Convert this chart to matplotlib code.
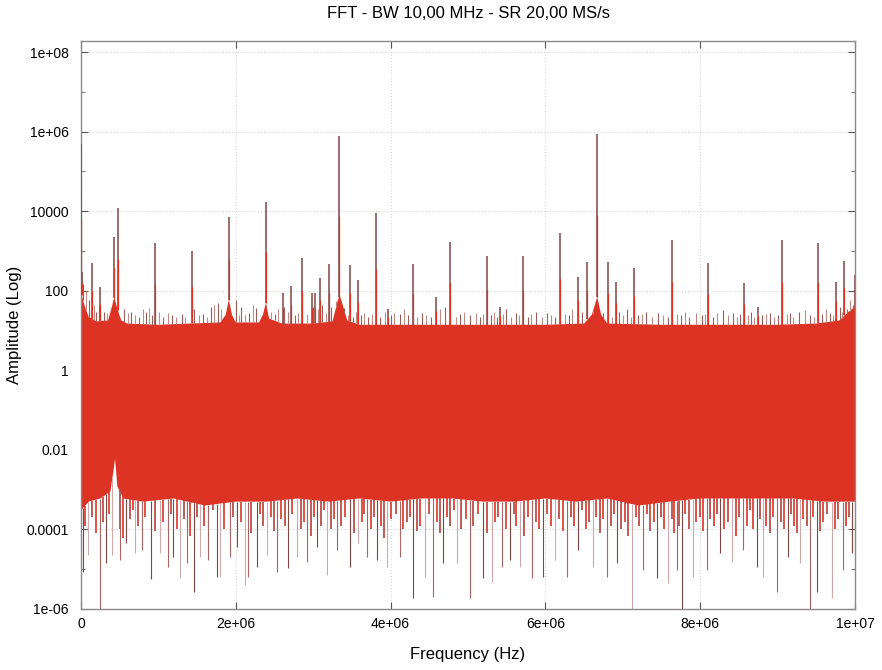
import matplotlib
matplotlib.use("Agg")
import matplotlib.pyplot as plt
from matplotlib.ticker import FixedLocator, FuncFormatter, NullFormatter
import numpy as np

plt.rcParams['font.family'] = ['Liberation Sans', 'DejaVu Sans']

# ---------------- data ----------------
title = "FFT - BW 10,00 MHz - SR 20,00 MS/s"
x_label = "Frequency (Hz)"
y_label = "Amplitude (Log)"

# main spectral lines: frequency (Hz), amplitude
peak_freq = [0.0, 1.0e4, 1.42e5, 2.45e5, 4.26e5, 4.78e5, 9.56e5, 1.43e6, 1.91e6,
             2.39e6, 2.61e6, 2.71e6, 2.86e6, 2.98e6, 3.02e6, 3.09e6, 3.20e6,
             3.33e6, 3.48e6, 3.58e6, 3.81e6, 3.97e6, 4.29e6, 4.59e6, 4.77e6,
             5.25e6, 5.41e6, 5.71e6, 6.19e6, 6.42e6, 6.54e6, 6.67e6, 6.81e6,
             6.91e6, 7.14e6, 7.64e6, 8.10e6, 8.57e6, 8.75e6, 9.06e6, 9.52e6,
             9.75e6, 9.86e6, 1.0e7]
peak_amp = [5e5, 300, 500, 125, 2200, 12000, 1600, 1000, 7000,
            17000, 90, 130, 660, 90, 90, 210, 470,
            8e5, 450, 190, 9000, 35, 470, 70, 1700,
            750, 40, 750, 2800, 220, 520, 9e5, 520,
            170, 370, 1900, 500, 160, 40, 1900, 1600,
            170, 560, 250]

# small "grass" lines on top of the noise floor (MHz, amplitude)
grass_mhz = [0.03, 0.07, 0.10, 0.17, 0.20, 0.23, 0.30, 0.33, 0.55, 0.61, 0.65, 0.70,
             0.75, 0.80, 0.84, 0.88, 0.92, 1.01, 1.06, 1.13, 1.18, 1.23, 1.30, 1.35,
             1.46, 1.52, 1.58, 1.63, 1.68, 1.72, 1.77, 1.81, 2.00, 2.04, 2.07, 2.12,
             2.17, 2.22, 2.26, 2.46, 2.50, 2.55, 2.62, 2.68, 2.76, 2.80, 2.85, 2.92,
             3.00, 3.06, 3.12, 3.16, 3.23, 3.29, 3.40, 3.45, 3.52, 3.55, 3.62, 3.66,
             3.71, 3.76, 3.86, 3.93, 4.01, 4.05, 4.12, 4.17, 4.22, 4.34, 4.40, 4.46,
             4.52, 4.64, 4.70, 4.84, 4.90, 4.95, 5.02, 5.10, 5.16, 5.20, 5.30, 5.33,
             5.37, 5.45, 5.49, 5.56, 5.62, 5.66, 5.77, 5.82, 5.88, 5.95, 6.02, 6.07,
             6.13, 6.25, 6.30, 6.35, 6.47, 6.61, 6.75, 6.86, 6.95, 7.00, 7.05, 7.10,
             7.20, 7.25, 7.30, 7.38, 7.46, 7.52, 7.58, 7.70, 7.75, 7.80, 7.86, 7.95,
             8.02, 8.06, 8.16, 8.22, 8.30, 8.36, 8.43, 8.48, 8.52, 8.62, 8.65, 8.70,
             8.80, 8.85, 8.90, 8.95, 9.00, 9.12, 9.16, 9.20, 9.28, 9.35, 9.42, 9.47,
             9.58, 9.62, 9.68, 9.72, 9.80, 9.83, 9.90, 9.93, 9.97]
grass_amp = [150, 100, 60, 45, 30, 40, 30, 28, 35, 28, 30, 25,
             22, 35, 30, 38, 24, 30, 22, 28, 24, 22, 26, 22,
             35, 24, 26, 22, 40, 45, 50, 35, 60, 25, 40, 24,
             28, 45, 38, 30, 26, 35, 40, 30, 24, 28, 30, 26,
             40, 35, 45, 28, 40, 55, 28, 24, 22, 30, 24, 28,
             22, 26, 22, 30, 24, 28, 26, 35, 24, 22, 28, 24,
             22, 35, 40, 22, 26, 30, 24, 28, 22, 26, 24, 30,
             22, 26, 35, 22, 28, 24, 22, 26, 30, 22, 28, 24,
             22, 26, 24, 35, 30, 26, 28, 22, 30, 24, 35, 22,
             24, 26, 30, 22, 28, 24, 22, 26, 24, 30, 22, 28,
             24, 26, 22, 28, 32, 24, 28, 22, 26, 24, 30, 22,
             24, 26, 28, 22, 24, 26, 28, 22, 30, 32, 24, 22,
             26, 35, 28, 24, 40, 30, 35, 60, 45]

# upper edge of the dense noise band
upper_freq = [0.0, 0.05e6, 0.10e6, 0.20e6, 0.35e6, 0.40e6, 0.43e6, 0.47e6, 0.52e6,
              0.60e6, 1.00e6, 1.40e6, 1.80e6, 1.87e6, 1.91e6, 1.95e6, 2.00e6,
              2.30e6, 2.35e6, 2.39e6, 2.43e6, 2.60e6, 3.00e6, 3.25e6, 3.31e6,
              3.34e6, 3.38e6, 3.44e6, 3.60e6, 4.00e6, 4.50e6, 5.00e6, 5.50e6,
              6.00e6, 6.50e6, 6.60e6, 6.67e6, 6.72e6, 6.80e6, 7.50e6, 8.00e6,
              8.50e6, 9.00e6, 9.50e6, 9.80e6, 9.92e6, 1.0e7]
upper_amp = [90, 40, 22, 17, 18, 40, 70, 35, 18,
             15, 14, 15, 16, 25, 60, 25, 16,
             16, 25, 50, 20, 15, 15, 17, 50,
             80, 45, 18, 14, 14, 14, 14, 14,
             14, 15, 25, 70, 25, 15, 14, 14,
             14, 14, 15, 18, 30, 40]

# lower edge of the solid part of the band
lower_freq = [0.0, 0.10e6, 0.25e6, 0.38e6, 0.42e6, 0.44e6, 0.47e6, 0.55e6, 0.80e6,
              1.20e6, 1.60e6, 2.00e6, 2.40e6, 2.80e6, 3.20e6, 3.60e6, 4.00e6,
              4.40e6, 4.80e6, 5.20e6, 5.60e6, 6.00e6, 6.40e6, 6.80e6, 7.20e6,
              7.60e6, 8.00e6, 8.40e6, 8.80e6, 9.20e6, 9.60e6, 1.0e7]
lower_amp = [3e-4, 5e-4, 6e-4, 9e-4, 3e-3, 6e-3, 1.2e-3, 6e-4, 5e-4,
             6e-4, 4e-4, 5e-4, 5e-4, 6e-4, 5e-4, 6e-4, 5e-4,
             6e-4, 6e-4, 5e-4, 5e-4, 6e-4, 5e-4, 6e-4, 4e-4,
             5e-4, 6e-4, 6e-4, 6e-4, 6e-4, 5e-4, 5e-4]

# long downward dips below the band
dip_freq = [2.6e4, 9.0e4, 2.45e5, 3.23e5, 4.0e5, 5.04e5, 5.81e5, 6.98e5, 7.88e5,
            9.04e5, 1.02e6, 1.12e6, 1.19e6, 1.28e6, 1.37e6, 1.46e6, 1.54e6,
            1.64e6, 1.76e6, 1.80e6, 1.93e6, 2.02e6, 2.12e6, 2.16e6, 2.27e6,
            2.40e6, 2.53e6, 2.67e6, 2.79e6, 2.92e6, 3.05e6, 3.18e6, 3.31e6,
            3.48e6, 3.58e6, 3.70e6, 3.82e6, 3.95e6, 4.12e6, 4.29e6, 4.44e6,
            4.55e6, 4.68e6, 4.86e6, 5.03e6, 5.19e6, 5.31e6, 5.44e6, 5.54e6,
            5.67e6, 5.83e6, 5.97e6, 6.12e6, 6.28e6, 6.42e6, 6.61e6, 6.80e6,
            6.93e6, 7.12e6, 7.26e6, 7.44e6, 7.58e6, 7.70e6, 7.77e6, 7.91e6,
            8.09e6, 8.26e6, 8.41e6, 8.55e6, 8.73e6, 8.81e6, 8.99e6, 9.13e6,
            9.29e6, 9.42e6, 9.51e6, 9.70e6, 9.84e6, 9.96e6]
dip_amp = [8.5e-6, 2.3e-5, 1e-6, 1.4e-5, 2.3e-5, 1.7e-5, 4.6e-5, 2.6e-5, 3.1e-5,
           5.8e-6, 2.6e-5, 1.15e-5, 2.0e-5, 6.0e-6, 1.4e-5, 2.7e-6, 2.0e-5,
           1.7e-5, 6.4e-6, 6.4e-6, 2.0e-5, 3.7e-5, 4.1e-6, 6.4e-6, 1.15e-5,
           2.3e-5, 8.5e-6, 1.1e-5, 2.0e-5, 1.5e-5, 3.7e-5, 7.2e-6, 3.1e-5,
           1.15e-5, 4.6e-5, 2.0e-5, 1.7e-5, 1.15e-5, 2.0e-5, 1.9e-6, 6.4e-6,
           2.0e-6, 1.4e-5, 1.4e-5, 1.9e-6, 6.0e-6, 4.8e-6, 1.15e-5, 1.7e-5,
           1.15e-5, 6.0e-6, 6.4e-6, 1.7e-5, 6.4e-6, 3.1e-5, 1.15e-5, 6.4e-6,
           1.4e-5, 1e-6, 9.5e-6, 6.0e-6, 4.5e-6, 9.5e-6, 1e-6, 6.4e-6,
           9.5e-6, 2.6e-5, 1.5e-5, 3.1e-5, 1.15e-5, 6.4e-6, 2.7e-6, 2.0e-5,
           1.4e-5, 1e-6, 2.6e-6, 1.9e-6, 9.5e-6, 2.6e-5]

# short dips (red fingers) at the lower edge (MHz, amplitude)
short_mhz = [0.05, 0.14, 0.19, 0.28, 0.36, 0.50, 0.54, 0.63, 0.67, 0.74,
             0.83, 0.95, 1.06, 1.16, 1.24, 1.33, 1.41, 1.50, 1.59, 1.70,
             1.85, 1.97, 2.07, 2.20, 2.31, 2.35, 2.45, 2.49, 2.58, 2.63,
             2.72, 2.84, 2.88, 2.97, 3.01, 3.10, 3.14, 3.23, 3.27, 3.36,
             3.41, 3.53, 3.63, 3.66, 3.75, 3.78, 3.87, 3.91, 4.00, 4.07,
             4.16, 4.21, 4.25, 4.34, 4.38, 4.49, 4.60, 4.64, 4.73, 4.77,
             4.82, 4.91, 4.98, 5.07, 5.13, 5.24, 5.35, 5.39, 5.49, 5.59,
             5.62, 5.72, 5.78, 5.88, 5.92, 6.02, 6.07, 6.17, 6.23, 6.33,
             6.37, 6.47, 6.52, 6.56, 6.66, 6.71, 6.75, 6.85, 6.89, 6.98,
             7.03, 7.07, 7.17, 7.21, 7.31, 7.35, 7.40, 7.49, 7.53, 7.63,
             7.66, 7.73, 7.81, 7.86, 7.95, 8.00, 8.04, 8.13, 8.18, 8.22,
             8.31, 8.36, 8.46, 8.50, 8.60, 8.64, 8.68, 8.77, 8.85, 8.90,
             8.94, 9.04, 9.08, 9.17, 9.21, 9.25, 9.33, 9.38, 9.46, 9.55,
             9.59, 9.64, 9.74, 9.78, 9.88, 9.92]
short_amp = [1.2e-4, 2e-4, 8e-5, 1.5e-4, 2.5e-4, 1e-4, 6e-5, 1.8e-4, 3e-4, 1.2e-4,
             2e-4, 9e-5, 1.5e-4, 2.5e-4, 1e-4, 1.8e-4, 7e-5, 2e-4, 1.2e-4, 3e-4,
             1e-4, 2e-4, 1.5e-4, 8e-5, 2.5e-4, 1.2e-4, 2e-4, 9e-5, 1.8e-4, 1.2e-4,
             2.5e-4, 1e-4, 1.5e-4, 7e-5, 2e-4, 1.2e-4, 3e-4, 1e-4, 1.8e-4, 1.2e-4,
             2e-4, 8e-5, 1.5e-4, 2.5e-4, 1e-4, 2e-4, 1.2e-4, 6e-5, 1.8e-4, 2.5e-4,
             1e-4, 1.5e-4, 2e-4, 9e-5, 1.2e-4, 2.5e-4, 1.5e-4, 8e-5, 2e-4, 1.2e-4,
             3e-4, 1e-4, 1.8e-4, 1.2e-4, 2.5e-4, 8e-5, 1.5e-4, 2e-4, 1e-4, 2.5e-4,
             1.2e-4, 7e-5, 2e-4, 1.5e-4, 1e-4, 2.5e-4, 1.2e-4, 1.8e-4, 9e-5, 2e-4,
             1.2e-4, 3e-4, 1e-4, 1.5e-4, 2e-4, 8e-5, 1.8e-4, 1.2e-4, 2.5e-4, 1e-4,
             1.5e-4, 7e-5, 2e-4, 1.2e-4, 2.5e-4, 9e-5, 1.5e-4, 2e-4, 1e-4, 1.8e-4,
             8e-5, 1.2e-4, 2.5e-4, 1e-4, 1.5e-4, 2e-4, 9e-5, 1.8e-4, 1.2e-4, 2.5e-4,
             1e-4, 1.5e-4, 7e-5, 2e-4, 1.2e-4, 3e-4, 1e-4, 1.8e-4, 1.2e-4, 8e-5,
             2e-4, 1.5e-4, 1e-4, 2.5e-4, 1.2e-4, 8e-5, 1.8e-4, 1.2e-4, 2e-4, 9e-5,
             1.5e-4, 2.5e-4, 1e-4, 1.8e-4, 1.2e-4, 2e-4]

y_major = [1e-6, 1e-4, 1e-2, 1, 1e2, 1e4, 1e6, 1e8]
y_minor = [1e-5, 1e-3, 1e-1, 1e1, 1e3, 1e5, 1e7]
x_major = [0, 2e6, 4e6, 6e6, 8e6, 1e7]

# ---------------- drawing ----------------
RED = '#dd3325'
DARK = '#7e4644'
PINK = '#cfa9a9'

fig = plt.figure(figsize=(8.82, 6.70), dpi=100)
ax = fig.add_axes([81/882, 1-609/670, (855-81)/882, (609-41)/670])
ax.set_yscale('log')
ax.set_xlim(0, 1e7)
ax.set_ylim(1e-6, 10**8.28)

# noise band as one polygon (upper edge left->right, lower edge right->left)
poly_x = list(upper_freq) + list(lower_freq)[::-1]
poly_y = list(upper_amp) + list(lower_amp)[::-1]
ax.fill(poly_x, poly_y, color=RED, lw=0, zorder=2)

# long dips
dip_top = np.interp(dip_freq, lower_freq, lower_amp)
dip_cols = [DARK if i % 3 == 0 else (PINK if i % 3 == 1 else '#a86464')
            for i in range(len(dip_freq))]
ax.vlines(dip_freq, dip_amp, dip_top, colors=dip_cols, lw=0.8, zorder=2.5)

# short dips
short_freq = np.array(short_mhz) * 1e6
s_top = np.interp(short_freq, lower_freq, lower_amp)
s_cols = [RED if i % 2 == 0 else '#b8403a' for i in range(len(short_freq))]
ax.vlines(short_freq, short_amp, s_top, colors=s_cols, lw=1.2, zorder=2.4)

# grass
grass_freq = np.array(grass_mhz) * 1e6
g_base = np.interp(grass_freq, upper_freq, upper_amp)
g_cols = ['#9a5e5a' if i % 2 == 0 else '#c08a86' for i in range(len(grass_freq))]
ax.vlines(grass_freq, g_base, grass_amp, colors=g_cols, lw=0.8, zorder=3)

# spectral lines
p_base = np.interp(peak_freq, upper_freq, upper_amp)
ax.vlines(peak_freq, p_base, peak_amp, colors=DARK, lw=1.1, zorder=4)
p_mid = np.sqrt(np.array(peak_amp) * p_base)
ax.vlines(peak_freq, p_base, p_mid, colors=RED, lw=0.9, zorder=5)

# axes styling
ax.yaxis.set_major_locator(FixedLocator(y_major))
ax.yaxis.set_minor_locator(FixedLocator(y_minor))
ax.yaxis.set_minor_formatter(NullFormatter())
ax.yaxis.set_major_formatter(FuncFormatter(lambda v, p: '%g' % v))
ax.xaxis.set_major_locator(FixedLocator(x_major))
ax.xaxis.set_major_formatter(FuncFormatter(lambda v, p: '%g' % v))

ax.grid(True, which='major', color='#d8d8d8', linestyle=':', linewidth=0.8, zorder=0)
ax.set_axisbelow(True)
for s in ax.spines.values():
    s.set_color('#8a8a8a')
    s.set_linewidth(1.0)
ax.tick_params(which='both', direction='in', top=True, right=True, color='#555555',
               labelsize=10)
ax.tick_params(which='major', length=5)
ax.tick_params(which='minor', length=3)
ax.tick_params(axis='y', pad=9)
ax.tick_params(axis='x', pad=6)

fig.text(0.5 * (81 + 855) / 882, 1 - 14/670, title, ha='center', va='center', fontsize=12)
fig.text(0.5 * (81 + 855) / 882, 1 - 655/670, x_label, ha='center', va='center', fontsize=12)
fig.text(15/882, 1 - 325/670, y_label, ha='center', va='center', rotation=90, fontsize=12)

fig.savefig('out.png', dpi=100)
